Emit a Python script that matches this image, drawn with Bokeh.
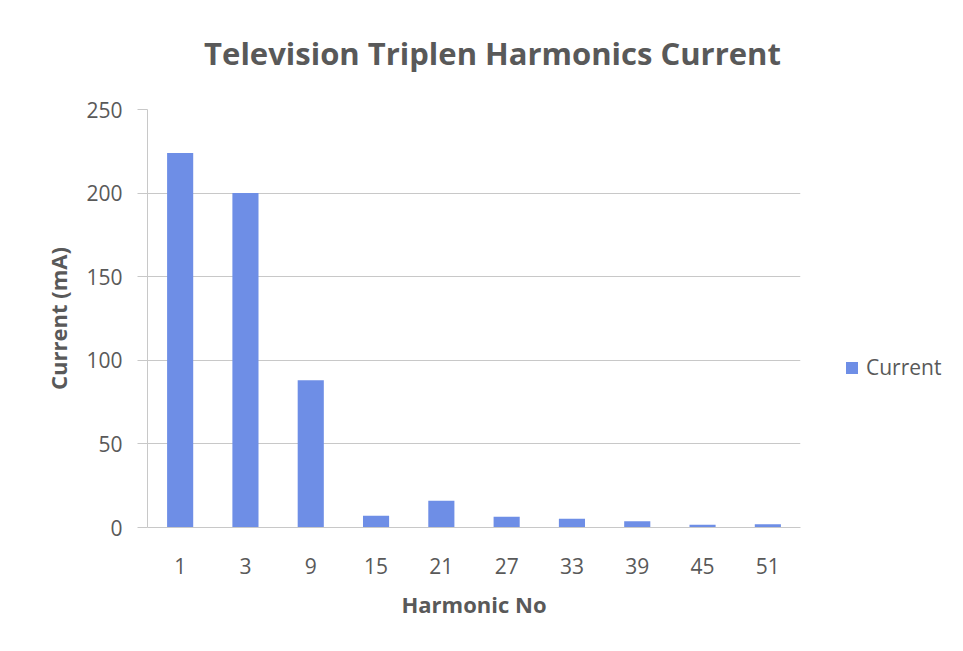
from bokeh.plotting import figure
from bokeh.layouts import row, column
from bokeh.models import ColumnDataSource, Legend, LegendItem, Label, FixedTicker
from bokeh.embed import file_html
from bokeh.resources import INLINE

harmonics = ["1", "3", "9", "15", "21", "27", "33", "39", "45", "51"]
current = [224, 200, 88, 7, 16, 6.5, 5.2, 3.8, 1.6, 2.0]

TITLE = "Television Triplen Harmonics Current"
X_LABEL = "Harmonic No"
Y_LABEL = "Current (mA)"
SERIES = "Current"
y_ticks = [0, 50, 100, 150, 200, 250]

FONT = "Open Sans"
TXT = "#595959"
BAR = "#6E8EE6"
GRID = "#C8C8C8"

src = ColumnDataSource(dict(h=harmonics, c=current))

W_PLOT, W_LEG = 793, 153
H_TITLE, H = 76, 558

# title strip
tf = figure(width=W_PLOT + W_LEG, height=H_TITLE, output_backend="svg",
            toolbar_location=None, x_range=(0, 1), y_range=(0, 1), min_border=0)
tf.axis.visible = False
tf.grid.visible = False
tf.outline_line_color = None
tf.add_layout(Label(x=484, y=32, x_units="screen", y_units="screen",
                    text=TITLE, text_align="center", text_baseline="middle",
                    text_font=FONT, text_font_size="31px",
                    text_font_style="bold", text_color=TXT))

p = figure(x_range=harmonics, y_range=(0, 250), width=W_PLOT, height=H,
           output_backend="svg", toolbar_location=None, title=None,
           min_border_left=139, min_border_right=1, min_border_top=25,
           min_border_bottom=115)
p.outline_line_color = None
p.border_fill_color = "white"
p.background_fill_color = "white"

p.vbar(x="h", top="c", width=0.4, source=src, color=BAR, line_color=None)

p.xgrid.grid_line_color = None
p.ygrid.grid_line_color = GRID
p.ygrid.grid_line_width = 1
p.yaxis.ticker = FixedTicker(ticks=y_ticks)

for ax in (p.xaxis[0], p.yaxis[0]):
    ax.axis_line_color = GRID
    ax.major_tick_line_color = GRID
    ax.minor_tick_line_color = None
    ax.major_label_text_font = FONT
    ax.major_label_text_font_size = "21px"
    ax.major_label_text_color = TXT
    ax.axis_label_text_font = FONT
    ax.axis_label_text_font_size = "22px"
    ax.axis_label_text_font_style = "bold"
    ax.axis_label_text_color = TXT

p.xaxis.major_tick_line_color = None
p.xaxis.major_label_standoff = 24
p.xaxis.axis_label = X_LABEL
p.xaxis.axis_label_standoff = 12
p.yaxis.major_tick_in = 0
p.yaxis.major_tick_out = 10
p.yaxis.major_label_standoff = 15
p.yaxis.axis_label = Y_LABEL
p.yaxis.axis_label_standoff = 10

# legend panel to the right of the plot area
lf = figure(width=W_LEG, height=H, output_backend="svg", toolbar_location=None,
            x_range=(0, 1), y_range=(0, 1), min_border=0)
lf.axis.visible = False
lf.grid.visible = False
lf.outline_line_color = None
lr = lf.vbar(x=[5], top=[1], width=0.4, color=BAR, line_color=None)
legend = Legend(items=[LegendItem(label=SERIES, renderers=[lr])],
                location=(43, 146), border_line_color=None,
                background_fill_alpha=0, label_text_font=FONT,
                label_text_font_size="21px", label_text_color=TXT,
                glyph_width=15, glyph_height=15, label_standoff=7, padding=0,
                margin=0, spacing=0)
lf.add_layout(legend, "center")

layout = column(tf, row(p, lf, spacing=0), spacing=0)
html = file_html(layout, INLINE)
i = html.rfind("<body>")
html = html[:i] + "<body style=\"margin:8px\">" + html[i + len("<body>"):]
open("out.html", "w").write(html)
